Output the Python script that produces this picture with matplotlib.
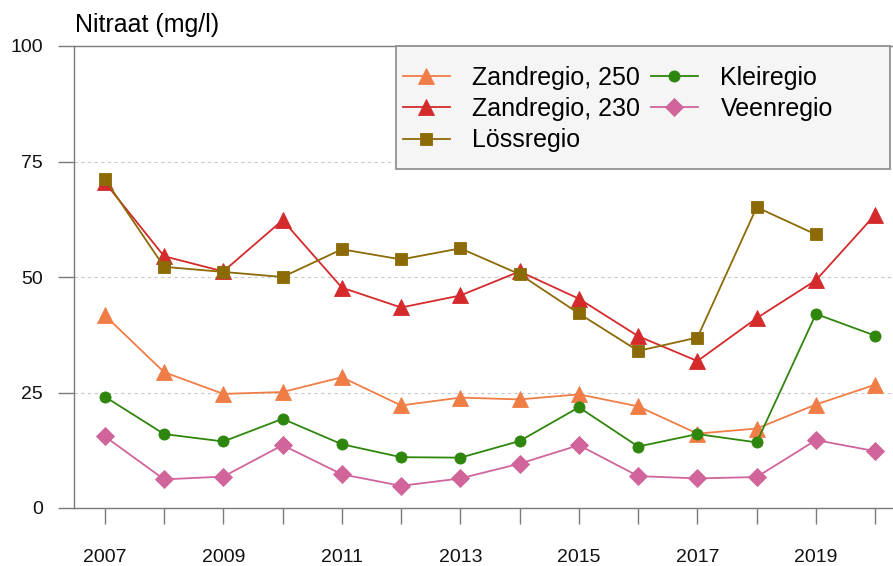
#!/usr/bin/env python3
# Nitraat per regio, 2007-2020

import numpy as np
import matplotlib
matplotlib.use('Agg')
import matplotlib.pyplot as plt
from matplotlib.patches import Rectangle

plt.rcParams['font.family'] = ['Liberation Sans', 'DejaVu Sans']

years = list(range(2007, 2021))
zand_250 = [41.7, 29.4, 24.7, 25.1, 28.3, 22.2, 23.9, 23.5, 24.6, 22.0, 16.1, 17.2, 22.4, 26.7]
zand_230 = [70.5, 54.5, 51.2, 62.3, 47.7, 43.4, 46.0, 51.2, 45.3, 37.2, 31.8, 41.1, 49.3, 63.5]
loss = [71.2, 52.2, 51.1, 50.0, 56.0, 53.8, 56.2, 50.6, 42.1, 34.0, 36.9, 65.1, 59.2, np.nan]
klei = [24.1, 16.0, 14.4, 19.3, 13.8, 11.0, 10.9, 14.5, 21.8, 13.3, 16.0, 14.2, 42.0, 37.3]
veen = [15.5, 6.2, 6.8, 13.6, 7.3, 4.8, 6.4, 9.6, 13.6, 6.9, 6.4, 6.7, 14.7, 12.3]

labels = ['Zandregio, 250', 'Zandregio, 230', 'Lössregio', 'Kleiregio', 'Veenregio']
series = [zand_250, zand_230, loss, klei, veen]
colors = ['#f07d46', '#d42a2c', '#8c6a05', '#2f860c', '#d0649b']
markers = ['^', '^', 's', 'o', 'D']
msizes = [12, 12, 8.5, 8, 9]

xticks = [2007, 2009, 2011, 2013, 2015, 2017, 2019]
yticks = [0, 25, 50, 75, 100]

W, H = 893, 566
fig = plt.figure(figsize=(W / 100, H / 100), dpi=100)
ax = fig.add_axes([74 / W, (H - 508) / H, (W - 74) / W, (508 - 46) / H])

gray = '#7a7a7a'
for y in [25, 50, 75]:
    ax.axhline(y, color='#c8c8c8', lw=0.8, ls=(0, (3, 3)), zorder=0)

handles = []
for vals, lab, c, m, ms in zip(series, labels, colors, markers, msizes):
    h, = ax.plot(years, vals, color=c, lw=1.3, marker=m, ms=ms,
                 mec=c, mew=0.6, label=lab, zorder=3)
    handles.append(h)

ax.set_xlim(2006.48, 2020.3)
ax.set_ylim(0, 100)
ax.set_xticks(years)
ax.set_xticklabels([str(y) if y in xticks else '' for y in years])
ax.set_yticks(yticks)
ax.tick_params(axis='both', direction='out', length=11.5, width=1, color=gray,
               labelsize=14, labelcolor='#111111')
ax.tick_params(axis='x', pad=18)
ax.tick_params(axis='y', pad=11)
for s in ['left', 'top', 'bottom']:
    ax.spines[s].set_color(gray)
    ax.spines[s].set_linewidth(1)
ax.spines['right'].set_visible(False)

# legend box
fig.patches.append(Rectangle((396 / W, 1 - 169 / H), (890 - 396) / W, (169 - 46) / H,
                             transform=fig.transFigure, facecolor='#f5f5f5',
                             edgecolor='#8a8a8a', lw=1.2, zorder=5))
leg = fig.legend(handles=handles, ncol=2, loc='upper left',
                 bbox_to_anchor=(390 / W, 1 - 53 / H), frameon=False,
                 fontsize=18, handlelength=1.9, handletextpad=0.9,
                 columnspacing=0.4, labelspacing=0.3, borderpad=0)
leg.set_zorder(6)

fig.text(75 / W, 1 - 25 / H, 'Nitraat (mg/l)', fontsize=18, va='center', ha='left')

fig.savefig('out.png', dpi=100)
